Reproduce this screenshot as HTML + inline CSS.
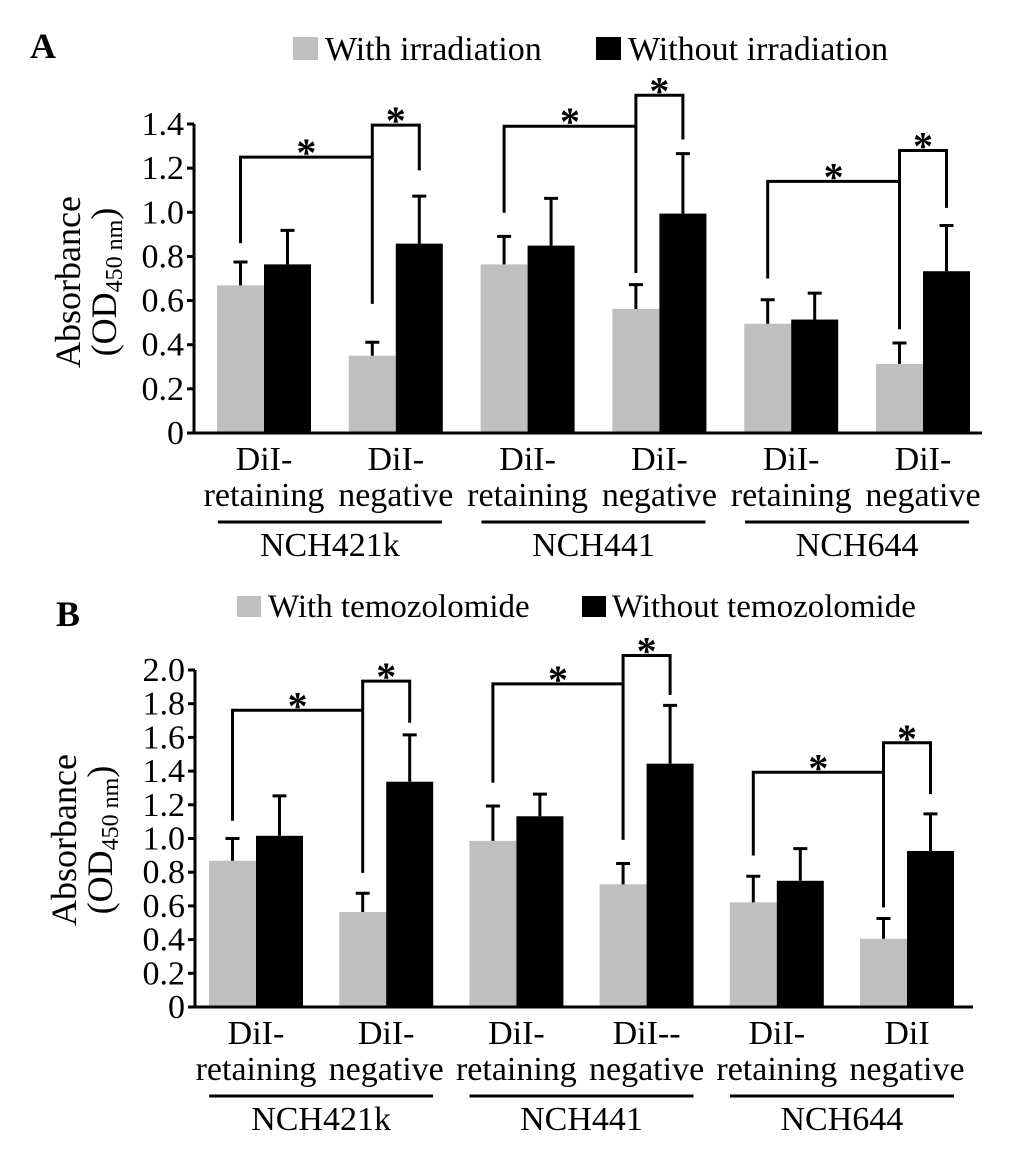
<!DOCTYPE html>
<html><head><meta charset="utf-8">
<style>
html,body{margin:0;padding:0;background:#fff;}
svg{display:block;font-family:"Liberation Serif",serif;}
</style></head>
<body>
<svg id="chart" width="1033" height="1167" viewBox="0 0 1033 1167" xmlns="http://www.w3.org/2000/svg">
<text x="30" y="58" font-size="36" font-weight="bold">A</text>
<rect x="293" y="37" width="25" height="23" fill="#bfbfbf"/>
<text x="325" y="60" font-size="34">With irradiation</text>
<rect x="596" y="37" width="25" height="23" fill="#000"/>
<text x="628" y="60" font-size="34">Without irradiation</text>
<text x="56" y="626" font-size="36" font-weight="bold">B</text>
<rect x="237" y="596" width="24" height="21" fill="#bfbfbf"/>
<text x="268" y="617" font-size="33">With temozolomide</text>
<rect x="582" y="596" width="24" height="21" fill="#000"/>
<text x="612" y="617" font-size="33">Without temozolomide</text>
</svg>
<script>
const groupNames = ["NCH421k","NCH441","NCH644"];
const catTop = ["DiI-","DiI-","DiI-","DiI-","DiI-","DiI-"];
const catBottom = ["retaining","negative","retaining","negative","retaining","negative"];
const catTopB = ["DiI-","DiI-","DiI-","DiI--","DiI-","DiI"];
// Panel A
const ticksA = [0,0.2,0.4,0.6,0.8,1.0,1.2,1.4];
const tickLabelsA = ["0","0.2","0.4","0.6","0.8","1.0","1.2","1.4"];
const grayA = [0.669,0.350,0.764,0.562,0.495,0.313];
const grayErrA = [0.775,0.411,0.891,0.672,0.604,0.408];
const blackA = [0.764,0.858,0.849,0.994,0.514,0.733];
const blackErrA = [0.918,1.073,1.063,1.266,0.634,0.940];
const brkH1A = [1.25,1.39,1.14];
const brkH2A = [1.395,1.53,1.28];
const legRetA = [0.86,0.998,0.70];
const legNegGA = [0.585,0.725,0.47];
const legNegBA = [1.19,1.33,1.02];
// Panel B
const ticksB = [0,0.2,0.4,0.6,0.8,1.0,1.2,1.4,1.6,1.8,2.0];
const tickLabelsB = ["0","0.2","0.4","0.6","0.8","1.0","1.2","1.4","1.6","1.8","2.0"];
const grayB = [0.868,0.564,0.986,0.728,0.621,0.405];
const grayErrB = [1.00,0.675,1.193,0.852,0.776,0.525];
const blackB = [1.016,1.337,1.132,1.444,0.749,0.926];
const blackErrB = [1.253,1.615,1.263,1.79,0.940,1.146];
const brkH1B = [1.761,1.918,1.393];
const brkH2B = [1.934,2.086,1.568];
const legRetB = [1.105,1.331,0.899];
const legNegGB = [0.796,0.992,0.591];
const legNegBB = [1.687,1.852,1.263];

const NS="http://www.w3.org/2000/svg";
const svg=document.getElementById('chart');
function mk(tag,attrs,parent){const e=document.createElementNS(NS,tag);for(const k in attrs)e.setAttribute(k,attrs[k]);(parent||svg).appendChild(e);return e;}

function panel(p){
  const g=mk('g',{});
  
  
  const y=v=>p.y0-(v/p.vmax)*(p.y0-p.yTop);
  const cx=i=>p.c0+i*p.step;
  const bw=p.bw;
  for(let i=0;i<6;i++){
    const r1=mk('rect',{x:cx(i)-bw,y:y(p.gray[i]),width:bw,height:p.y0-y(p.gray[i]),fill:'#bfbfbf'},g);
    
    
    const r2=mk('rect',{x:cx(i),y:y(p.black[i]),width:bw,height:p.y0-y(p.black[i]),fill:'#000'},g);
    
    
    [[cx(i)-bw/2,p.gray[i],p.gErr[i]],[cx(i)+bw/2,p.black[i],p.bErr[i]]].forEach(([x,v,e])=>{
      const pa=mk('path',{d:`M${x},${y(v)}V${y(e)}M${x-7},${y(e)}H${x+7}`,stroke:'#000','stroke-width':3,fill:'none'},g);
      
      
    });
  }
  const ax=mk('path',{d:`M${p.x0},${p.yTop}V${p.y0}H${p.xEnd}`,stroke:'#000','stroke-width':3,fill:'none'},g);
  
  
  p.ticks.forEach((t,i)=>{
    const tk=mk('path',{d:`M${p.x0-7},${y(t)}H${p.x0}`,stroke:'#000','stroke-width':3},g);
    
    
    const tl=mk('text',{x:p.x0-10,y:y(t)+11,'font-size':34,'text-anchor':'end'},g);
    tl.textContent=p.tickLabels[i];
    
    
  });
  const yt=mk('text',{transform:`translate(${p.titleX},${p.titleY}) rotate(-90)`,'font-size':36,'text-anchor':'middle'},g);
  yt.textContent='Absorbance';
  
  
  const yt2=mk('text',{transform:`translate(${p.titleX+36},${p.titleY}) rotate(-90)`,'font-size':36,'text-anchor':'middle'},g);
  yt2.innerHTML='(OD<tspan font-size="24" dy="6">450 nm</tspan><tspan dy="-6">)</tspan>';
  
  
  for(let i=0;i<6;i++){
    const a=mk('text',{x:cx(i),y:p.y0+37,'font-size':34,'text-anchor':'middle'},g);
    a.textContent=p.top[i];
    
    
    const b=mk('text',{x:cx(i),y:p.y0+73,'font-size':34,'text-anchor':'middle'},g);
    b.textContent=catBottom[i];
    
    
  }
  for(let j=0;j<3;j++){
    const gc=(cx(2*j)+cx(2*j+1))/2;
    const ul=mk('path',{d:`M${gc-112},${p.y0+89}H${gc+112}`,stroke:'#000','stroke-width':3},g);
    
    
    const gt=mk('text',{x:gc,y:p.y0+123,'font-size':34,'text-anchor':'middle'},g);
    gt.textContent=groupNames[j];
    
    
    const xr=cx(2*j)-bw/2, xn=cx(2*j+1)-bw/2, xb=cx(2*j+1)+bw/2;
    const b1=mk('path',{d:`M${xr},${y(p.legRet[j])}V${y(p.h1[j])}H${xn}`,stroke:'#000','stroke-width':3,fill:'none'},g);
    
    
    const b2=mk('path',{d:`M${xn},${y(p.legNG[j])}V${y(p.h2[j])}H${xb}V${y(p.legNB[j])}`,stroke:'#000','stroke-width':3,fill:'none'},g);
    
    
    const s1=mk('text',{x:(xr+xn)/2,y:y(p.h1[j])+9,'font-size':40,'font-weight':'bold','text-anchor':'middle'},g);
    s1.textContent='*';
    
    
    const s2=mk('text',{x:(xn+xb)/2,y:y(p.h2[j])+9,'font-size':40,'font-weight':'bold','text-anchor':'middle'},g);
    s2.textContent='*';
    
    
  }
}
panel({id:'panel-a',x0:194,xEnd:982,y0:433,yTop:124,vmax:1.4,c0:264,step:131.8,bw:47,
  ticks:ticksA,tickLabels:tickLabelsA,gray:grayA,gErr:grayErrA,black:blackA,bErr:blackErrA,
  h1:brkH1A,h2:brkH2A,legRet:legRetA,legNG:legNegGA,legNB:legNegBA,top:catTop,titleX:80,titleY:282});
panel({id:'panel-b',x0:195,xEnd:973,y0:1007,yTop:670,vmax:2.0,c0:256,step:130.2,bw:47,
  ticks:ticksB,tickLabels:tickLabelsB,gray:grayB,gErr:grayErrB,black:blackB,bErr:blackErrB,
  h1:brkH1B,h2:brkH2B,legRet:legRetB,legNG:legNegGB,legNB:legNegBB,top:catTopB,titleX:76,titleY:840});
</script>
</body></html>
